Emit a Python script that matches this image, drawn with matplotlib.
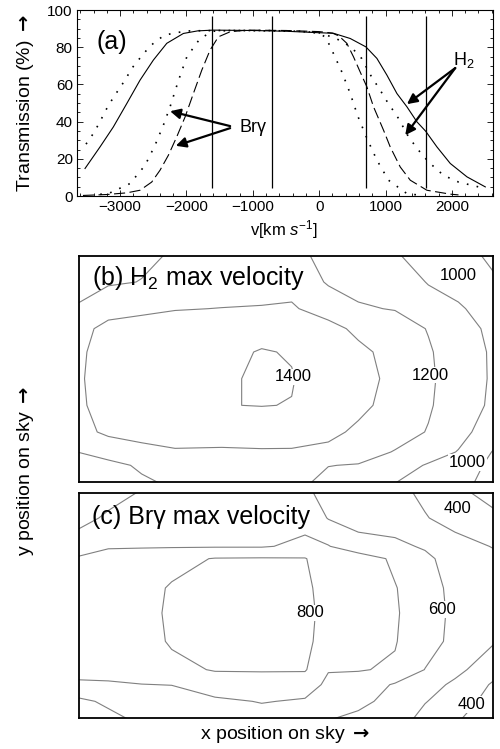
import numpy as np
import matplotlib.pyplot as plt
from matplotlib.ticker import MultipleLocator

plt.rcParams['font.family'] = ['Liberation Sans', 'DejaVu Sans']
plt.rcParams['mathtext.fontset'] = 'custom'
plt.rcParams['mathtext.rm'] = 'Liberation Sans'
plt.rcParams['mathtext.it'] = 'Liberation Sans:italic'
plt.rcParams['mathtext.sf'] = 'DejaVu Sans:bold'

ARROW = r'$\mathsf{\rightarrow}$'

# ============================================================
# (a) filter transmission curves, v in km/s, T in %
# ============================================================
# H2 filter, solid
h2_solid_v = [-3529, -3303, -3103, -2900, -2700, -2499, -2297, -2047, -1830, -1600,
              -1000, -500, 0, 216, 468, 704, 870, 1021, 1172, 1322, 1473, 1604,
              1775, 1976, 2228, 2504]
h2_solid_t = [14.8, 26.4, 37.1, 49.7, 62.3, 73.1, 82.1, 87.4, 88.8, 89.2,
              89.0, 88.6, 87.8, 87.5, 84.7, 80.2, 74.0, 65.0, 55.1, 48.0, 39.9, 34.9,
              26.4, 17.5, 10.3, 4.9]
# H2 filter, dotted (outer)
h2_dot_v = [-3514, -3404, -3313, -3217, -3127, -3027, -2926, -2825, -2725, -2599,
            -2474, -2323, -2122, -1946, -1500, -800, -300, 0, 250, 480, 640, 795,
            905, 1011, 1196, 1347, 1498, 1649, 1875, 2101, 2403]
h2_dot_t = [27.9, 33.6, 39.3, 46.1, 51.5, 57.0, 62.3, 68.6, 73.1, 78.5,
            83.0, 86.6, 88.0, 88.8, 89.0, 89.0, 88.6, 87.8, 84.8, 80.2, 74.0, 63.7,
            57.8, 51.5, 41.7, 31.8, 24.6, 18.3, 11.1, 7.5, 4.9]
# Br-gamma filter, dashed
brg_dash_v = [-3560, -3203, -2900, -2700, -2524, -2398, -2273, -2147, -2021, -1896,
              -1769, -1644, -1519, -1342, -1090, -500, 0, 200, 300, 417, 518, 618,
              719, 819, 970, 1071, 1222, 1373, 1624, 1976, 2100]
brg_dash_t = [0.3, 0.8, 1.7, 3.1, 7.5, 13.9, 21.9, 31.8, 42.5, 55.1,
              67.7, 78.5, 85.6, 88.3, 89.2, 89.0, 88.4, 87.6, 86.0, 82.1, 74.8, 66.7,
              58.7, 48.0, 35.4, 26.4, 15.6, 8.5, 3.1, 1.0, 0.6]
# Br-gamma filter, dotted (inner)
brg_dot_v = [-3300, -3152, -2851, -2624, -2474, -2348, -2247, -2122, -1995, -1795,
             -1600, -1300, -300, 0, 100, 191, 342, 468, 583, 720, 870, 1045, 1322, 1500]
brg_dot_t = [0.9, 1.7, 6.7, 16.5, 27.3, 38.1, 48.0, 62.0, 74.8, 84.7,
             88.6, 89.0, 88.6, 87.5, 85.3, 78.5, 66.7, 55.1, 42.9, 31.0, 19.3, 8.5, 1.3, 0.5]

# vertical marker lines
vline_v = [-1610, -710, 710, 1610]

# ============================================================
# (b) H2 and (c) Br-gamma max velocity maps (sky grid, y downwards)
# ============================================================
h2_x = [0, 100, 200, 300, 440, 560, 650, 760, 850, 960, 1060, 1150, 1260]
h2_y = [0, 90, 170, 230, 300, 380, 460, 540, 600, 640, 705]
h2_vmax = [
    [1140, 1160, 1185, 1205, 1220, 1230, 1225, 1170, 1150, 1102, 1080, 1050, 960],
    [1170, 1190, 1202, 1230, 1250, 1265, 1270, 1190, 1170, 1150, 1095, 1070, 1015],
    [1205, 1260, 1280, 1295, 1302, 1305, 1310, 1260, 1210, 1195, 1140, 1110, 1060],
    [1260, 1330, 1340, 1350, 1360, 1370, 1380, 1330, 1280, 1250, 1195, 1140, 1075],
    [1275, 1345, 1360, 1370, 1380, 1405, 1395, 1350, 1320, 1270, 1210, 1150, 1085],
    [1280, 1350, 1365, 1375, 1390, 1410, 1404, 1360, 1335, 1275, 1215, 1155, 1085],
    [1275, 1345, 1360, 1370, 1398, 1402, 1398, 1355, 1320, 1270, 1210, 1150, 1080],
    [1260, 1320, 1335, 1345, 1350, 1350, 1345, 1320, 1285, 1240, 1195, 1135, 1040],
    [1198, 1230, 1270, 1290, 1285, 1290, 1290, 1280, 1240, 1195, 1150, 1095, 990],
    [1170, 1180, 1210, 1250, 1245, 1250, 1250, 1202, 1195, 1150, 1090, 1060, 970],
    [1130, 1150, 1185, 1205, 1210, 1215, 1220, 1170, 1160, 1090, 1070, 1030, 950],
]
h2_levels = [1000, 1100, 1200, 1300, 1400]

brg_x = [0, 100, 200, 290, 420, 560, 690, 760, 850, 960, 1050, 1140, 1260]
brg_y = [0, 90, 175, 212, 300, 375, 460, 545, 590, 640, 705]
brg_vmax = [
    [560, 570, 598, 610, 620, 630, 605, 585, 570, 520, 480, 415, 350],
    [575, 610, 640, 650, 660, 665, 670, 595, 570, 555, 505, 470, 420],
    [630, 690, 690, 692, 692, 692, 720, 705, 630, 620, 590, 530, 495],
    [710, 740, 760, 770, 805, 808, 805, 740, 760, 680, 620, 560, 515],
    [740, 760, 770, 808, 840, 850, 815, 770, 780, 705, 640, 575, 530],
    [750, 770, 775, 812, 850, 860, 820, 775, 785, 710, 645, 580, 535],
    [745, 765, 770, 808, 845, 855, 815, 772, 780, 705, 640, 575, 505],
    [720, 730, 750, 780, 805, 806, 808, 705, 705, 690, 598, 530, 430],
    [690, 690, 698, 702, 760, 765, 745, 680, 660, 590, 545, 480, 385],
    [570, 620, 640, 650, 680, 705, 690, 640, 615, 580, 505, 450, 360],
    [530, 560, 610, 620, 640, 650, 640, 595, 580, 540, 460, 405, 340],
]
brg_levels = [400, 500, 600, 700, 800]

# contour label text and where it sits
h2_labels = [('1400', 655, 375), ('1200', 1065, 370), ('1000', 1150, 70), ('1000', 1178, 632)]
brg_labels = [('800', 705, 375), ('600', 1100, 365), ('400', 1148, 62), ('400', 1190, 650)]

# ============================================================
# Figure
# ============================================================
fig = plt.figure(figsize=(5.0, 7.49), dpi=100)

ax1 = fig.add_axes([0.154, 0.7383, 0.832, 0.2483])
ax1.plot(h2_solid_v, h2_solid_t, color='k', lw=0.8)
ax1.plot(h2_dot_v, h2_dot_t, color='k', lw=1.2, linestyle=(0, (1, 5)))
ax1.plot(brg_dash_v, brg_dash_t, color='k', lw=0.8, linestyle=(0, (10, 4)))
ax1.plot(brg_dot_v, brg_dot_t, color='k', lw=1.2, linestyle=(0, (1, 5)))
ax1.vlines(vline_v, 4.5, 97, color='k', lw=0.9)

ax1.set_xlim(-3650, 2620)
ax1.set_ylim(0, 100)
ax1.xaxis.set_major_locator(MultipleLocator(1000))
ax1.xaxis.set_minor_locator(MultipleLocator(200))
ax1.yaxis.set_major_locator(MultipleLocator(20))
ax1.yaxis.set_minor_locator(MultipleLocator(5))
ax1.tick_params(which='both', direction='in', top=True, right=True, width=0.6,
                labelsize=11, pad=3)
ax1.tick_params(which='major', length=4)
ax1.tick_params(which='minor', length=2)
for s in ax1.spines.values():
    s.set_linewidth(0.8)

ax1.text(0.048, 0.89, '(a)', transform=ax1.transAxes, fontsize=18, va='top', ha='left')

arw = dict(arrowstyle='-|>', mutation_scale=15, lw=1.6, color='k', shrinkA=0, shrinkB=0)
ax1.annotate('', xy=(-2247, 45.6), xytext=(-1342, 37.6), arrowprops=arw)
ax1.annotate('', xy=(-2161, 27.0), xytext=(-1342, 36.5), arrowprops=arw)
ax1.text(-1207, 37, 'Brγ', fontsize=13, ha='left', va='center')
ax1.annotate('', xy=(1323, 49.4), xytext=(2051, 68.8), arrowprops=arw)
ax1.annotate('', xy=(1297, 32.7), xytext=(2051, 68.8), arrowprops=arw)
ax1.text(2021, 73, 'H$_2$', fontsize=13, ha='left', va='center')

fig.text(0.052, 0.8625, 'Transmission (%) ' + ARROW, rotation=90, fontsize=14,
         ha='center', va='center')
fig.text(0.568, 0.694, 'v[km $s^{-1}$]', fontsize=12, ha='center', va='center')


def velocity_map(rect, xs, ys, z, levels, labels, ytop):
    ax = fig.add_axes(rect)
    X, Y = np.meshgrid(xs, ys)
    ax.contour(X, Y, np.array(z, dtype=float), levels=levels, colors='0.5',
               linewidths=0.8)
    for txt, lx, ly in labels:
        ax.text(lx, ly, txt, fontsize=12, ha='center', va='center',
                bbox=dict(fc='white', ec='none', pad=0.5))
    ax.set_xlim(12, 1254)
    ax.set_ylim(690, ytop)
    ax.set_xticks([])
    ax.set_yticks([])
    for s in ax.spines.values():
        s.set_linewidth(1.3)
    return ax


axb = velocity_map([0.158, 0.3565, 0.828, 0.3017], h2_x, h2_y, h2_vmax,
                   h2_levels, h2_labels, 12)
axb.text(0.031, 0.965, '(b) H$_2$ max velocity', transform=axb.transAxes,
         fontsize=18, ha='left', va='top')

axc = velocity_map([0.158, 0.0414, 0.828, 0.3004], brg_x, brg_y, brg_vmax,
                   brg_levels, brg_labels, 15)
axc.text(0.031, 0.945, '(c) Brγ max velocity', transform=axc.transAxes,
         fontsize=18, ha='left', va='top')

fig.text(0.052, 0.371, 'y position on sky ' + ARROW, rotation=90, fontsize=14,
         ha='center', va='center')
fig.text(0.57, 0.0187, 'x position on sky ' + ARROW, fontsize=14,
         ha='center', va='center')

fig.savefig('out.png', dpi=100)
